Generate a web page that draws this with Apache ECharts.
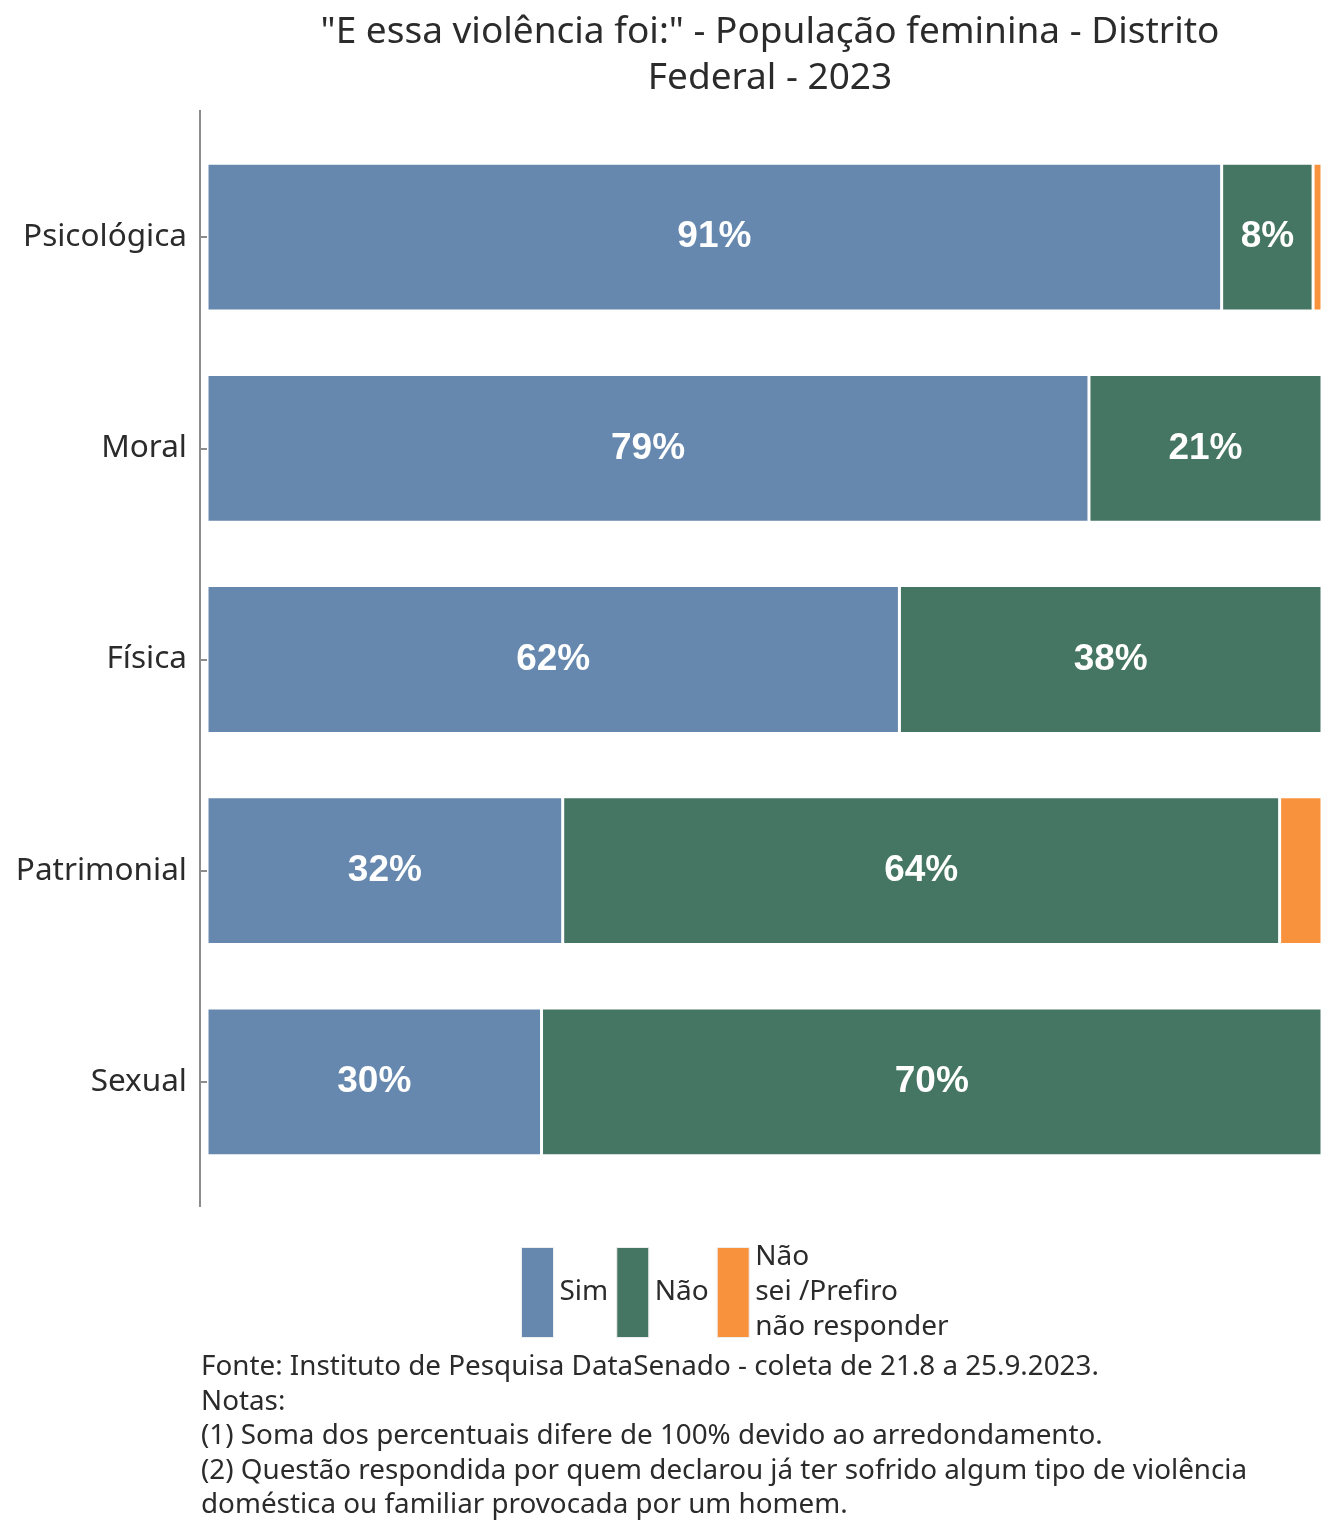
<!DOCTYPE html>
<html><head><meta charset="utf-8">
<script src="https://cdn.jsdelivr.net/npm/echarts@6/dist/echarts.min.js"></script>
<style>html,body{margin:0;padding:0;background:#fff}#c{width:1344px;height:1536px}</style>
</head><body><div id="c"></div>
<script>
const categories = ['Psicológica', 'Moral', 'Física', 'Patrimonial', 'Sexual'];
const simValues = [91.0, 79.1, 62.1, 31.9, 30.0];
const naoValues = [8.2, 20.9, 37.9, 64.3, 70.0];
const nsValues = [0.8, 0, 0, 3.8, 0];
const seriesNames = ['Sim', 'Não', 'Não\nsei /Prefiro\nnão responder'];
const colors = ['#6688AE', '#457563', '#F9923D'];
const titleText = '"E essa violência foi:" - População feminina - Distrito\nFederal - 2023';
const captionLines = [
  'Fonte: Instituto de Pesquisa DataSenado - coleta de 21.8 a 25.9.2023.',
  'Notas:',
  '(1) Soma dos percentuais difere de 100% devido ao arredondamento.',
  '(2) Questão respondida por quem declarou já ter sofrido algum tipo de violência',
  'doméstica ou familiar provocada por um homem.'
];

const FONT = '"Noto Sans", "Open Sans", sans-serif';
const chart = echarts.init(document.getElementById('c'), null, {renderer: 'canvas'});
const data = [simValues, naoValues, nsValues];
const series = data.map((vals, i) => ({
  name: seriesNames[i],
  type: 'bar',
  stack: 'total',
  data: vals,
  barCategoryGap: '30%',
  itemStyle: {color: colors[i], borderColor: '#fff', borderWidth: 1.5},
  label: {
    show: true,
    position: 'inside',
    color: '#fff',
    fontFamily: '"Liberation Sans", Arial, sans-serif',
    fontWeight: 'bold',
    fontSize: 37,
    formatter: p => p.value >= 5 ? Math.round(p.value) + '%' : ''
  },
  emphasis: {disabled: true}
}));

chart.setOption({
  animation: false,
  title: {
    text: titleText,
    left: 765, top: 4, textAlign: 'center',
    textStyle: {fontFamily: FONT, fontWeight: 'normal', fontSize: 37, color: '#2b2b2b', lineHeight: 46}
  },
  grid: {left: 200, right: 22, top: 131.5, bottom: 348.5, containLabel: false},
  xAxis: {type: 'value', min: -0.63, max: 100, show: false},
  yAxis: {
    type: 'category', data: categories, inverse: true,
    axisLine: {show: false},
    axisTick: {show: true, alignWithLabel: true, length: 6, lineStyle: {color: '#8c8c8c', width: 2}},
    axisLabel: {fontFamily: FONT, fontSize: 31.5, color: '#2b2b2b', margin: 13}
  },
  legend: {
    data: seriesNames,
    left: 516, top: 1235,
    itemWidth: 32, itemHeight: 90, itemGap: 8,
    icon: 'rect',
    itemStyle: {borderColor: '#eeeeee', borderWidth: 1},
    textStyle: {fontFamily: FONT, fontSize: 28, color: '#2b2b2b', lineHeight: 35, padding: [0, 0, 0, 1]}
  },
  graphic: [
    {type: 'line', shape: {x1: 200, y1: 110, x2: 200, y2: 1207}, style: {stroke: '#8c8c8c', lineWidth: 2}},
    {type: 'text', left: 201, top: 1350, style: {text: captionLines.join('\n'), fontFamily: FONT, fontSize: 27.8, lineHeight: 34.5, fill: '#2b2b2b'}}
  ],
  series: series
});
</script></body></html>
